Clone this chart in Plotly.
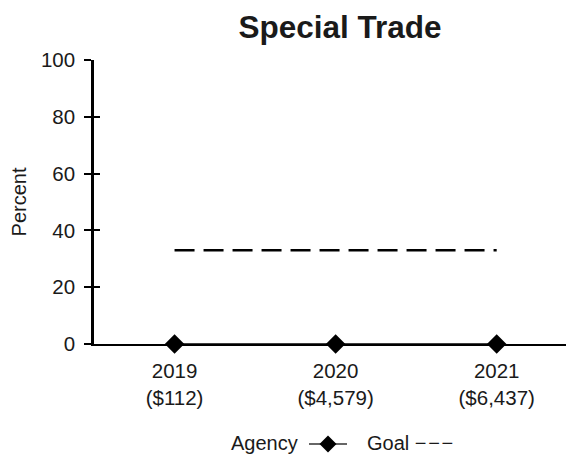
import plotly.graph_objects as go

years = ["2019", "2020", "2021"]
amounts = ["($112)", "($4,579)", "($6,437)"]
agency = [0, 0, 0]
goal = [33, 33, 33]
yticks = [0, 20, 40, 60, 80, 100]

labels = [f"{y}<br>{a}" for y, a in zip(years, amounts)]
xs = list(range(len(years)))

FONT = "Liberation Sans, Arial, sans-serif"
TXT = "#1a1a1a"

fig = go.Figure()
fig.add_trace(go.Scatter(
    x=xs, y=goal, mode="lines", name="Goal",
    line=dict(color="black", width=2.5, dash="20px,9px"),
    showlegend=False, hoverinfo="skip"))
fig.add_trace(go.Scatter(
    x=xs, y=agency, mode="lines+markers", name="Agency",
    line=dict(color="black", width=1.5),
    marker=dict(symbol="diamond", size=15, color="black"),
    showlegend=False, cliponaxis=False))

# dummy trace so the overlaid axis carrying the inner halves of the ticks is drawn
fig.add_trace(go.Scatter(x=[0], y=[0], xaxis="x", yaxis="y3", mode="markers",
                         marker=dict(opacity=0), showlegend=False, hoverinfo="skip"))

# custom legend (text before symbol); paper coords relative to plot area
def px(page_x):
    return (page_x - 94) / 480

def py(page_y):
    return (344 - page_y) / 284

LEG_Y = py(443)
fig.add_annotation(x=px(300), y=LEG_Y, xref="paper", yref="paper", text="Agency",
                   showarrow=False, xanchor="right", yanchor="middle",
                   font=dict(size=20, family=FONT, color=TXT))
fig.add_shape(type="line", xref="paper", yref="paper",
              x0=px(309), x1=px(347), y0=py(444), y1=py(444),
              line=dict(color="#333", width=1.5))
d = 8.5
fig.add_shape(type="path", xref="paper", yref="paper",
              path=(f"M {px(328 - d)} {py(444)} L {px(328)} {py(444 - d)} "
                    f"L {px(328 + d)} {py(444)} L {px(328)} {py(444 + d)} Z"),
              fillcolor="black", line=dict(width=0))
fig.add_annotation(x=px(365), y=LEG_Y, xref="paper", yref="paper",
                   text="Goal \u2212\u200a\u2212\u200a\u2212", showarrow=False,
                   xanchor="left", yanchor="middle",
                   font=dict(size=20, family=FONT, color=TXT))

fig.update_layout(
    width=566, height=450,
    margin=dict(l=86, r=0, t=52, b=114),
    paper_bgcolor="white", plot_bgcolor="white",
    title=dict(text="<b>Special Trade</b>", x=(340 - 8) / 566, xanchor="center",
               y=1 - 19 / 450, yanchor="middle",
               font=dict(size=31.5, family=FONT, color=TXT)),
    font=dict(family=FONT, size=20.5, color=TXT),
    xaxis=dict(range=[-0.5, 2.48], tickmode="array", tickvals=xs, ticktext=labels,
               showgrid=False, zeroline=False, showline=True, linecolor="black",
               linewidth=1.5, ticks="", tickfont=dict(size=20.5), ticklabelstandoff=8),
    yaxis=dict(range=[0, 100], tickvals=yticks, showgrid=False, zeroline=False,
               showline=True, linecolor="black", linewidth=2.5, ticks="outside",
               ticklen=7, tickwidth=2, tickcolor="black", ticklabelstandoff=5,
               title=dict(text="Percent", font=dict(size=20), standoff=12),
               tickfont=dict(size=20.5)),
    yaxis3=dict(range=[0, 100], tickvals=yticks, overlaying="y", anchor="x",
                side="left", showgrid=False, zeroline=False, showline=False,
                ticks="inside", ticklen=6, tickwidth=2, tickcolor="black",
                showticklabels=False),
)

fig.write_html("out.html")
